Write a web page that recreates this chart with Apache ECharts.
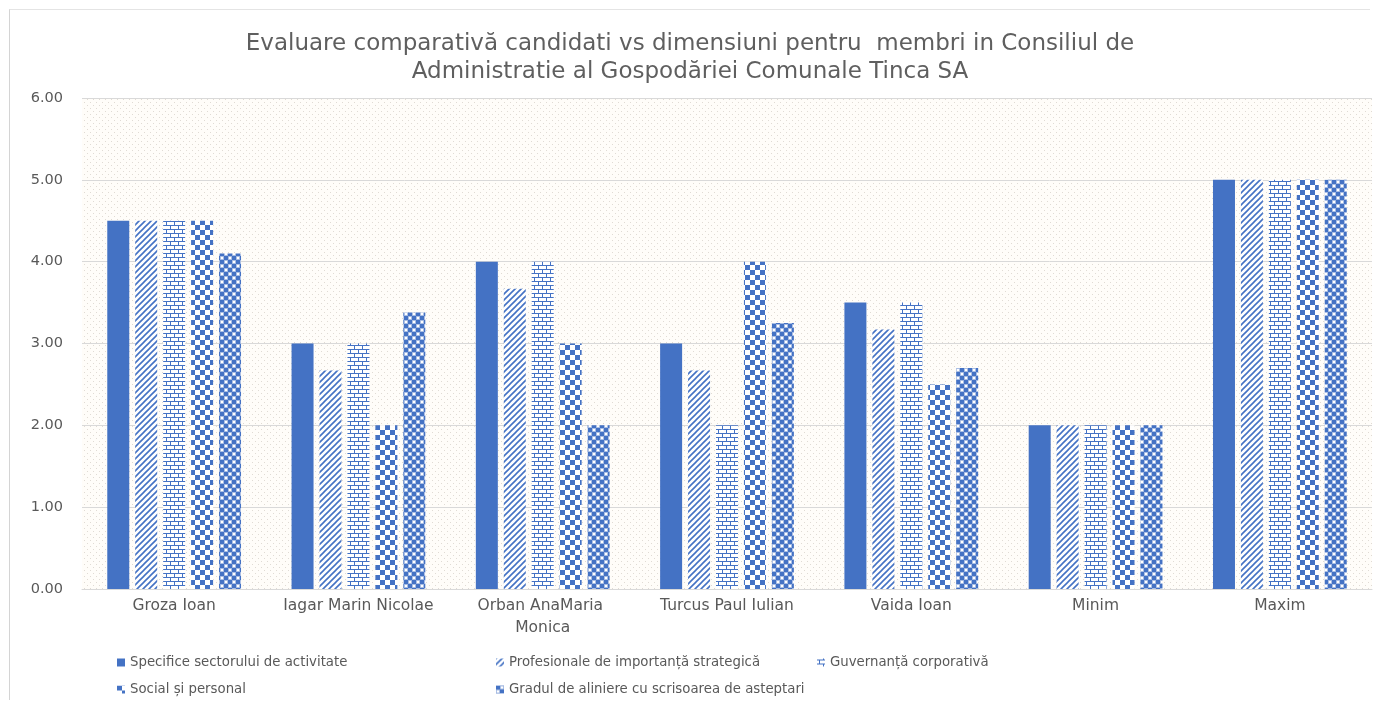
<!DOCTYPE html>
<html>
<head>
<meta charset="utf-8">
<script src="https://cdn.jsdelivr.net/npm/echarts@6/dist/echarts.min.js"></script>
<style>
  html, body { margin: 0; padding: 0; background: #fff; overflow: hidden; }
  #main { position: absolute; left: 0; top: 0; width: 1380px; height: 702px; }
  #frame { position: absolute; left: 9px; top: 9px; width: 1360px; height: 690px; z-index: 5;
           pointer-events: none; border-left: 1px solid #d4d4d4; border-top: 1px solid #e4e4e4; }
</style>
</head>
<body>
<div id="main"></div>
<div id="frame"></div>
<script type="text/javascript">
// date
var candidati = ['Groza Ioan', 'Iagar Marin Nicolae', 'Orban AnaMaria Monica', 'Turcus Paul Iulian', 'Vaida Ioan', 'Minim', 'Maxim'];
var specifice    = [4.5, 3.0, 4.0, 3.0, 3.5, 2, 5];
var profesionale = [4.5, 2.67, 3.67, 2.67, 3.17, 2, 5];
var guvernanta   = [4.5, 3.0, 4.0, 2.0, 3.5, 2, 5];
var social       = [4.5, 2.0, 3.0, 4.0, 2.5, 2, 5];
var aliniere     = [4.1, 3.38, 2.0, 3.25, 2.7, 2, 5];
var yTicks = [0, 1, 2, 3, 4, 5, 6];

var albastru = '#4472C4';
var font = 'DejaVu Sans';

// modele (hasuri) desenate pe canvas
function pattern(size, draw) {
    var c = document.createElement('canvas');
    c.width = size; c.height = size;
    var ctx = c.getContext('2d');
    ctx.fillStyle = '#fff';
    ctx.fillRect(0, 0, size, size);
    ctx.fillStyle = albastru;
    ctx.strokeStyle = albastru;
    draw(ctx, size);
    return { image: c, repeat: 'repeat' };
}

var pDiag = pattern(6, function (ctx, s) {
    ctx.lineWidth = 1.6;
    ctx.beginPath();
    ctx.moveTo(0, s); ctx.lineTo(s, 0);
    ctx.moveTo(-s, s); ctx.lineTo(s, -s);
    ctx.moveTo(0, 2 * s); ctx.lineTo(2 * s, 0);
    ctx.stroke();
});
var pCaramida = pattern(8, function (ctx, s) {
    ctx.fillRect(0, 1, s, 1);
    ctx.fillRect(0, 5, s, 1);
    ctx.fillRect(2, 1, 1, 4);
    ctx.fillRect(6, 5, 1, 3);
    ctx.fillRect(6, 0, 1, 1);
});
var pSah = pattern(10, function (ctx, s) {
    ctx.fillRect(0, 0, 5, 5);
    ctx.fillRect(5, 5, 5, 5);
    ctx.fillStyle = '#fff';
    ctx.beginPath(); ctx.arc(7.5, 2.5, 1.8, 0, Math.PI * 2); ctx.fill();
    ctx.beginPath(); ctx.arc(2.5, 7.5, 1.8, 0, Math.PI * 2); ctx.fill();
});
var pSahMic = pattern(8, function (ctx, s) {
    ctx.fillRect(0, 0, 4, 4);
    ctx.fillRect(4, 4, 4, 4);
    ctx.fillStyle = '#9fb6e0';
    ctx.fillRect(4, 0, 4, 4);
    ctx.fillRect(0, 4, 4, 4);
    ctx.fillStyle = '#fff';
    ctx.beginPath(); ctx.arc(6, 2, 1.3, 0, Math.PI * 2); ctx.fill();
    ctx.beginPath(); ctx.arc(2, 6, 1.3, 0, Math.PI * 2); ctx.fill();
});
var pPuncte = (function () {
    var c = document.createElement('canvas');
    c.width = 6; c.height = 6;
    var ctx = c.getContext('2d');
    ctx.fillStyle = '#fffdf9';
    ctx.fillRect(0, 0, 6, 6);
    ctx.fillStyle = '#e0dbd4';
    ctx.fillRect(0, 0, 1, 1);
    ctx.fillRect(3, 3, 1, 1);
    return { image: c, repeat: 'repeat' };
})();

var serii = [
    ['Specifice sectorului de activitate', specifice, albastru],
    ['Profesionale de importanță strategică', profesionale, pDiag],
    ['Guvernanță corporativă', guvernanta, pCaramida],
    ['Social și personal', social, pSah],
    ['Gradul de aliniere cu scrisoarea de asteptari', aliniere, pSahMic]
];

var series = serii.map(function (s) {
    return {
        name: s[0],
        type: 'bar',
        data: s[1],
        barWidth: 22,
        barGap: '27%',
        itemStyle: { color: s[2] }
    };
});

// pozitii legenda (doua randuri, trei coloane)
var legPoz = [[112, 651], [491, 651], [812, 651], [112, 678], [491, 678]];
var legend = serii.map(function (s, i) {
    return {
        data: [s[0]],
        left: legPoz[i][0],
        top: legPoz[i][1],
        icon: 'rect',
        itemWidth: 8,
        itemHeight: 8,
        itemGap: 4,
        textStyle: { color: '#595959', fontSize: 13.3, fontFamily: font }
    };
});

var myChart = echarts.init(document.getElementById('main'));
var option = {
    backgroundColor: '#fff',
    animation: false,
    title: {
        text: 'Evaluare comparativă candidati vs dimensiuni pentru  membri in Consiliul de\nAdministratie al Gospodăriei Comunale Tinca SA',
        left: 'center',
        top: 25,
        textStyle: { color: '#5f5f5f', fontSize: 23, fontWeight: 'normal', fontFamily: font, lineHeight: 28 }
    },
    legend: legend,
    grid: {
        left: 82, right: 8, top: 98, bottom: 113,
        show: true, borderWidth: 0,
        backgroundColor: pPuncte
    },
    xAxis: {
        type: 'category',
        data: candidati,
        axisTick: { show: false },
        axisLine: { lineStyle: { color: '#d9d9d9' } },
        axisLabel: { color: '#595959', fontSize: 15.5, fontFamily: font, margin: 6, lineHeight: 22,
            width: 175, overflow: 'break', interval: 0 }
    },
    yAxis: {
        type: 'value',
        min: yTicks[0], max: yTicks[yTicks.length - 1], interval: 1,
        axisLabel: { color: '#595959', fontSize: 14.5, fontFamily: font, margin: 19,
            formatter: function (v) { return v.toFixed(2); } },
        splitLine: { lineStyle: { color: '#d9d9d9' } },
        axisLine: { show: false },
        axisTick: { show: false }
    },
    series: series
};
myChart.setOption(option);
</script>
</body>
</html>
